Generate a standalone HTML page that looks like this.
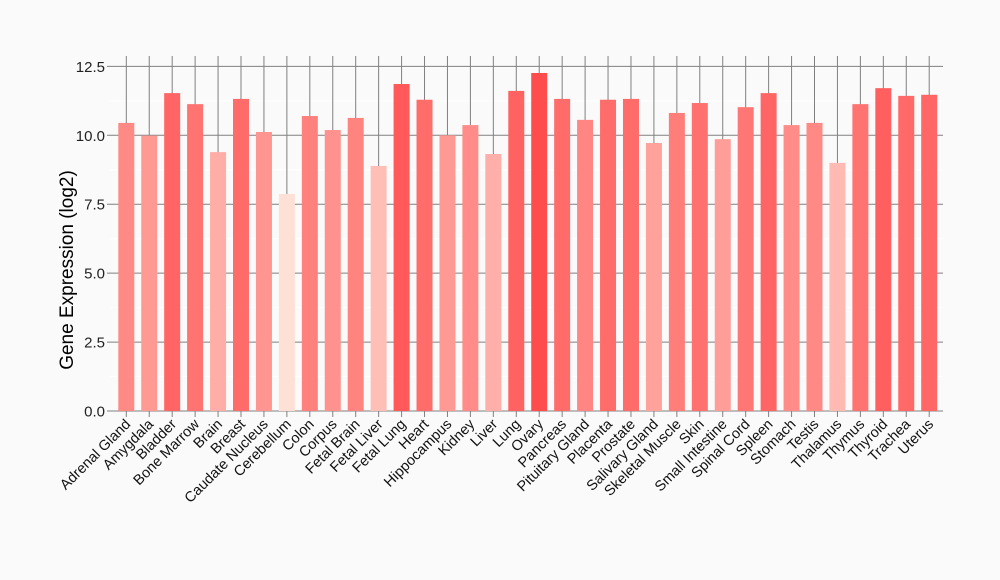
<!DOCTYPE html>
<html><head><meta charset="utf-8"><style>
html,body{margin:0;padding:0;background:#fafafa;}
svg{display:block;font-family:"Liberation Sans",Arial,sans-serif;}
</style></head><body>
<svg id="chart" width="1000" height="580">
<rect width="1000" height="580" fill="#fafafa"/>
<g id="gridLayer"></g>
<g id="barLayer"></g>
<g id="axisLayer"></g>
<text transform="translate(73,270) rotate(-90)" text-anchor="middle" font-size="19" fill="#000">Gene Expression (log2)</text>
</svg>
<script>
var categories=["Adrenal Gland","Amygdala","Bladder","Bone Marrow","Brain","Breast","Caudate Nucleus","Cerebellum","Colon","Corpus","Fetal Brain","Fetal Liver","Fetal Lung","Heart","Hippocampus","Kidney","Liver","Lung","Ovary","Pancreas","Pituitary Gland","Placenta","Prostate","Salivary Gland","Skeletal Muscle","Skin","Small Intestine","Spinal Cord","Spleen","Stomach","Testis","Thalamus","Thymus","Thyroid","Trachea","Uterus"];
var values=[10.45,9.99,11.53,11.13,9.39,11.32,10.12,7.87,10.70,10.19,10.63,8.89,11.86,11.29,10.0,10.37,9.32,11.61,12.26,11.32,10.56,11.29,11.32,9.72,10.81,11.17,9.86,11.02,11.53,10.37,10.45,9.0,11.13,11.71,11.43,11.47];
var yTicks=[0,2.5,5,7.5,10,12.5];
var yTickLabels=["0.0","2.5","5.0","7.5","10.0","12.5"];
var SVGNS="http://www.w3.org/2000/svg";
var X0=126.3,STEP=22.94,BW=16,LEFT=110,RIGHT=943,TOP=56;
function xPos(i){return X0+i*STEP;}
function yPos(v){return 411-v*27.57;}
function mk(tag,attrs,parent){var e=document.createElementNS(SVGNS,tag);for(var k in attrs){e.setAttribute(k,attrs[k]);}parent.appendChild(e);return e;}
var gridG=document.getElementById('gridLayer');
var barsG=document.getElementById('barLayer');
var axesG=document.getElementById('axisLayer');
for(var m=1.25;m<12.5;m+=2.5){
  var ml=mk('line',{x1:LEFT,x2:RIGHT,y1:yPos(m),y2:yPos(m),stroke:'#ffffff','stroke-width':1},gridG);
  
  
}
for(var k=0;k<yTicks.length;k++){
  var yl=mk('line',{x1:107,x2:RIGHT,y1:yPos(yTicks[k]),y2:yPos(yTicks[k]),stroke:'#808080','stroke-width':1},gridG);
  
  
  var ytx=mk('text',{x:105,y:yPos(yTicks[k])+5.5,'text-anchor':'end','font-size':15,fill:'#222'},axesG);
  ytx.textContent=yTickLabels[k];
  
  
}
for(var i=0;i<categories.length;i++){
  var x=xPos(i);
  var vl=mk('line',{x1:x,x2:x,y1:TOP,y2:417,stroke:'#808080','stroke-width':1},gridG);
  
  
  var v=values[i];
  var f=Math.max(0,Math.min(1,(v-7.87)/(12.26-7.87)));
  var gc=Math.round(224-f*(224-77)),bc=Math.round(214-f*(214-77));
  var r=mk('rect',{x:x-BW/2,y:yPos(v),width:BW,height:yPos(0)-yPos(v),fill:'rgb(255,'+gc+','+bc+')'},barsG);
  
  
  var lt=mk('text',{transform:'translate('+(x+5)+',425) rotate(-45)','text-anchor':'end','font-size':14.5,fill:'#111'},axesG);
  lt.textContent=categories[i];
  
  
}
</script>
</body></html>
